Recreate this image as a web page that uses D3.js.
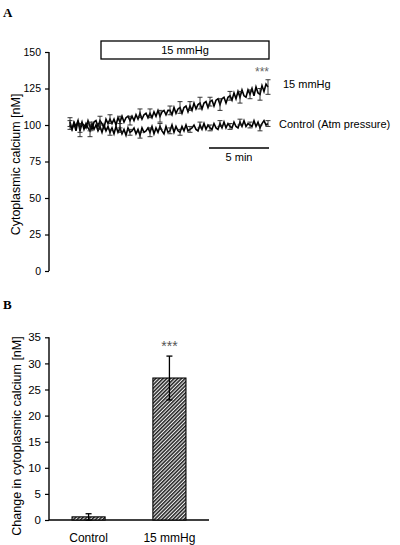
<!DOCTYPE html>
<html><head><meta charset="utf-8">
<script src="https://cdn.jsdelivr.net/npm/d3@7"></script>
<style>body{margin:0;background:#fff}svg{display:block;font-family:"Liberation Sans",Arial,sans-serif}</style>
</head><body>
<svg id="c" width="400" height="545"></svg>
<script>
// Panel A: time course (one sample per step)
const pressureSeries = [100,97,102,99,103,96,101,100,98,103,
99,97,102,103,99,103,101,98,104,101,
104,101,104,100,105,102,106,102,105,106,
103,106,103,107,104,108,104,107,108,105,
108,105,109,106,110,106,109,110,107,110,
110,107,112,108,111,112,108,112,113,109,
113,110,115,111,114,115,111,115,116,112,
116,117,113,117,118,114,118,119,115,119,
120,117,122,118,123,119,124,120,119,124,
121,125,120,126,122,121,127,123,128,126];
const controlSeries = [102,97,101,96,103,98,102,97,101,98,
96,101,97,100,96,99,95,100,96,99,
95,98,94,99,95,98,94,97,93,98,
95,96,98,94,97,93,98,95,96,98,
95,99,94,98,95,99,96,94,99,95,
96,100,95,99,96,95,99,96,100,96,
97,98,100,97,96,100,97,101,97,100,
98,97,101,98,97,101,98,102,98,101,
99,98,102,99,98,102,99,103,99,101,
100,99,103,99,102,98,101,103,100,101];
const errIdx = [0,5,10,15,20,25,30,35,40,45,50,55,60,65,70,75,80,85,90,95,99];
const pressureErr = [3,4,3,3,3,4,3,3,3,4,3,4,3,4,3,4,3,4,3,4,5];
const controlErr  = [3,3,4,2,2,3,2,2,3,2,2,2,2,2,2,2,2,2,2,2,2];
const aTicks = [0,25,50,75,100,125,150];

// Panel B: change in calcium
const categories = ["Control","15 mmHg"];
const changeValues = [0.6,27.2];
const changeErr = [0.6,4.2];
const bTicks = [0,5,10,15,20,25,30,35];

const svg = d3.select("#c");
const defs = svg.append("defs");
const pat = defs.append("pattern").attr("id","hatch").attr("patternUnits","userSpaceOnUse")
  .attr("width",2.6).attr("height",2.6).attr("patternTransform","rotate(45)");
pat.append("rect").attr("width",2.6).attr("height",2.6).attr("fill","#eee");
pat.append("rect").attr("width",1.5).attr("height",2.6).attr("fill","#222");

// ---------- Panel A ----------
svg.append("text").attr("x",3).attr("y",17).text("A")
  .attr("font-family","Liberation Serif").attr("font-weight","bold").attr("font-size",13);

const yA = d3.scaleLinear().domain([0,150]).range([271,52]);
const xA = d3.scaleLinear().domain([0,pressureSeries.length-1]).range([70,268]);

const gA = svg.append("g").attr("transform","translate(49,0)")
  .call(d3.axisLeft(yA).tickValues(aTicks).tickSize(4).tickPadding(4));
gA.selectAll("text").attr("font-size",10.5).attr("font-family","Liberation Sans").attr("fill","#000");
gA.select(".domain").attr("d","M0,"+yA(150)+"V"+yA(0)).attr("stroke","#000").attr("stroke-width",1.4);
gA.selectAll(".tick line").attr("stroke","#000").attr("stroke-width",1.2);

svg.append("text").attr("transform","translate(19.5,164.5) rotate(-90)").attr("text-anchor","middle")
  .attr("font-size",12.5).text("Cytoplasmic calcium [nM]");

// box
svg.append("rect").attr("x",101).attr("y",41).attr("width",168).attr("height",18)
  .attr("fill","#fff").attr("stroke","#000").attr("stroke-width",1.3);
svg.append("text").attr("x",185).attr("y",54).attr("text-anchor","middle").attr("font-size",11).text("15 mmHg");

function drawSeries(vals, errs){
  const line = d3.line().x((d,i)=>xA(i)).y(d=>yA(d));
  svg.append("path").datum(vals).attr("d",line).attr("fill","none").attr("stroke","#000").attr("stroke-width",1.6);
  const g = svg.append("g").attr("stroke","#222").attr("stroke-width",0.9);
  errIdx.forEach((k,j)=>{
    const x = xA(k), y1 = yA(vals[k]-errs[j]), y2 = yA(vals[k]+errs[j]);
    g.append("line").attr("x1",x).attr("x2",x).attr("y1",y1).attr("y2",y2);
    g.append("line").attr("x1",x-2.5).attr("x2",x+2.5).attr("y1",y1).attr("y2",y1);
    g.append("line").attr("x1",x-2.5).attr("x2",x+2.5).attr("y1",y2).attr("y2",y2);
  });
}
drawSeries(controlSeries, controlErr);
drawSeries(pressureSeries, pressureErr);

svg.append("text").attr("x",262).attr("y",76).attr("text-anchor","middle").attr("font-size",12).attr("fill","#666").text("***");
svg.append("text").attr("x",283).attr("y",88).attr("font-size",11).text("15 mmHg");
svg.append("text").attr("x",279).attr("y",128).attr("font-size",11).text("Control (Atm pressure)");

// scale bar
svg.append("line").attr("x1",209).attr("x2",269).attr("y1",148).attr("y2",148).attr("stroke","#000").attr("stroke-width",1.3);
svg.append("text").attr("x",239).attr("y",161).attr("text-anchor","middle").attr("font-size",11).text("5 min");

// ---------- Panel B ----------
svg.append("text").attr("x",3).attr("y",309).text("B")
  .attr("font-family","Liberation Serif").attr("font-weight","bold").attr("font-size",13);

const yB = d3.scaleLinear().domain([0,35]).range([520,337.3]);
const xB = d3.scaleBand().domain(categories).range([49,209]).paddingInner(0.591).paddingOuter(0.285);

const gB = svg.append("g").attr("transform","translate(49,0)")
  .call(d3.axisLeft(yB).tickValues(bTicks).tickSize(4).tickPadding(4));
gB.selectAll("text").attr("font-size",11.5).attr("font-family","Liberation Sans").attr("fill","#000");
gB.select(".domain").attr("d","M0,"+yB(35)+"V"+yB(0)).attr("stroke","#000").attr("stroke-width",1.4);
gB.selectAll(".tick line").attr("stroke","#000").attr("stroke-width",1.2);

svg.append("line").attr("x1",49).attr("x2",209).attr("y1",yB(0)).attr("y2",yB(0)).attr("stroke","#000").attr("stroke-width",1.4);

svg.selectAll(".bar").data(categories).enter().append("rect")
  .attr("x",d=>xB(d)).attr("width",xB.bandwidth())
  .attr("y",(d,i)=>yB(changeValues[i])).attr("height",(d,i)=>yB(0)-yB(changeValues[i]))
  .attr("fill","url(#hatch)").attr("stroke","#000").attr("stroke-width",1.1);

categories.forEach((c,i)=>{
  const x = xB(c)+xB.bandwidth()/2;
  const y1 = yB(changeValues[i]-changeErr[i]), y2 = yB(changeValues[i]+changeErr[i]);
  svg.append("line").attr("x1",x).attr("x2",x).attr("y1",y1).attr("y2",y2).attr("stroke","#000").attr("stroke-width",1.3);
  svg.append("line").attr("x1",x-3).attr("x2",x+3).attr("y1",y2).attr("y2",y2).attr("stroke","#000").attr("stroke-width",1.3);
  svg.append("line").attr("x1",x-3).attr("x2",x+3).attr("y1",y1).attr("y2",y1).attr("stroke","#000").attr("stroke-width",1.3);
  svg.append("text").attr("x",x).attr("y",542).attr("text-anchor","middle").attr("font-size",12).text(c);
});

svg.append("text").attr("x",xB("15 mmHg")+xB.bandwidth()/2).attr("y",351).attr("text-anchor","middle")
  .attr("font-size",14).attr("fill","#555").text("***");

svg.append("text").attr("transform","translate(21,436) rotate(-90)").attr("text-anchor","middle")
  .attr("font-size",12.5).text("Change in cytoplasmic calcium [nM]");
</script>
</body></html>
